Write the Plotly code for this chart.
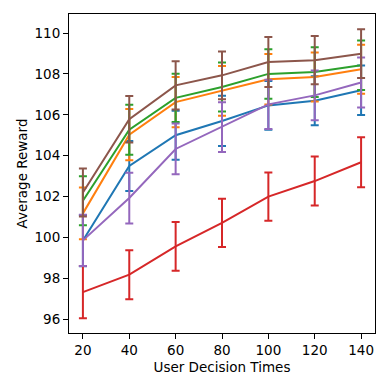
import plotly.graph_objects as go

x_vals = [20, 40, 60, 80, 100, 120, 140]
x_ticks = [20, 40, 60, 80, 100, 120, 140]
y_ticks = [96, 98, 100, 102, 104, 106, 108, 110]

blue_mean = [99.85, 103.5, 105.0, 105.7, 106.46, 106.69, 107.2]
blue_err = [1.25, 1.22, 1.2, 1.23, 1.19, 1.2, 1.21]
orange_mean = [101.18, 105.03, 106.62, 107.17, 107.74, 107.85, 108.23]
orange_err = [1.27, 1.25, 1.23, 1.22, 1.23, 1.2, 1.2]
green_mean = [101.8, 105.27, 106.83, 107.36, 108.0, 108.09, 108.42]
green_err = [1.2, 1.22, 1.18, 1.2, 1.21, 1.22, 1.21]
red_mean = [97.33, 98.18, 99.57, 100.72, 102.0, 102.76, 103.68]
red_err = [1.28, 1.2, 1.19, 1.18, 1.18, 1.2, 1.22]
purple_mean = [99.86, 101.93, 104.33, 105.4, 106.51, 106.95, 107.58]
purple_err = [1.25, 1.24, 1.24, 1.22, 1.2, 1.22, 1.22]
brown_mean = [102.2, 105.78, 107.44, 107.93, 108.58, 108.67, 108.99]
brown_err = [1.17, 1.14, 1.18, 1.17, 1.22, 1.18, 1.19]

series = [
    (blue_mean, blue_err, "#1f77b4"),
    (orange_mean, orange_err, "#ff7f0e"),
    (green_mean, green_err, "#2ca02c"),
    (red_mean, red_err, "#d62728"),
    (purple_mean, purple_err, "#9467bd"),
    (brown_mean, brown_err, "#8c564b"),
]

fig = go.Figure()
for mean, err, color in series:
    fig.add_trace(go.Scatter(
        x=x_vals, y=mean, mode="lines",
        line=dict(color=color, width=2),
        error_y=dict(type="data", array=err, visible=True,
                     color=color, thickness=2, width=4),
        showlegend=False,
    ))

FONT = "DejaVu Sans"
FS = 13.5

axis_common = dict(
    showgrid=False, zeroline=False, showline=True, linecolor="black",
    linewidth=1, mirror=True, ticks="outside", ticklen=5, tickwidth=1,
    tickcolor="black", tickfont=dict(family=FONT, size=FS, color="black"),
)

# page body has an 8px margin, so the figure is 382x382 placed at (8, 8)
fig.update_layout(
    width=382, height=382,
    margin=dict(l=61, r=15, t=6, b=57),
    paper_bgcolor="white", plot_bgcolor="white",
    font=dict(family=FONT, size=FS, color="black"),
    xaxis=dict(range=[14, 146], tickvals=x_ticks,
               title=dict(text="User Decision Times", standoff=5,
                          font=dict(family=FONT, size=FS)),
               **axis_common),
    yaxis=dict(range=[95.33, 110.93], tickvals=y_ticks,
               title=dict(text="Average Reward", standoff=3,
                          font=dict(family=FONT, size=FS)),
               **axis_common),
)

fig.write_html("out.html")
